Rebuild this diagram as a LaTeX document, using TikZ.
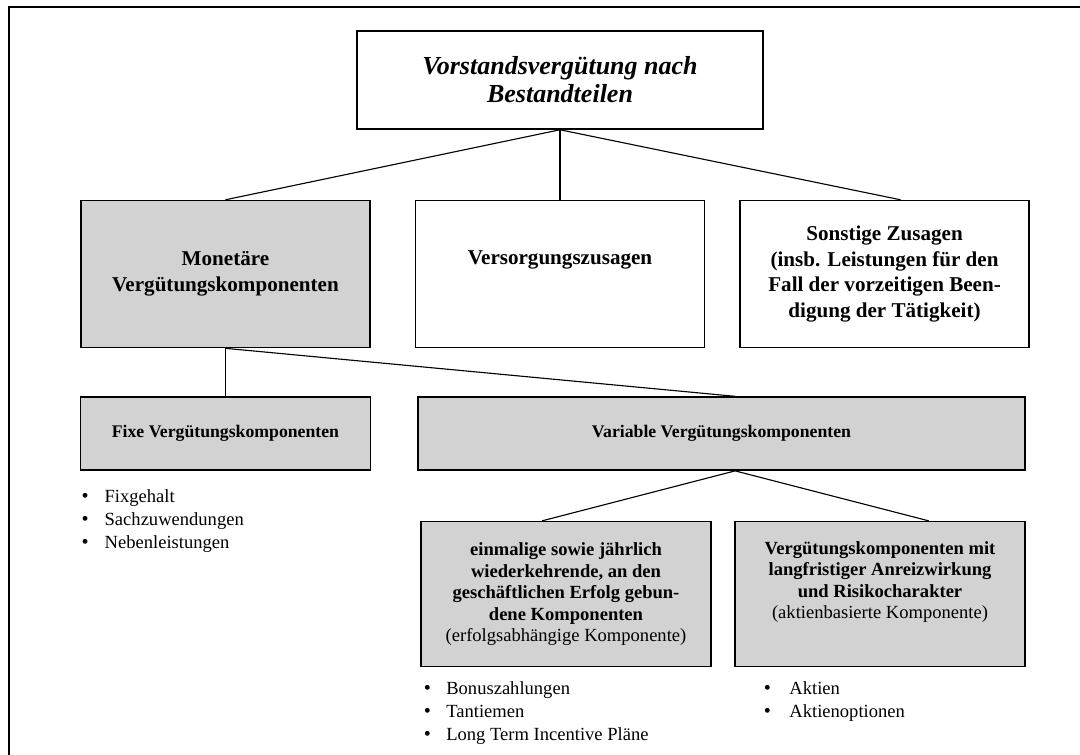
\documentclass[tikz,border=0pt]{standalone}
\usepackage{fontspec}
\setmainfont{Liberation Serif}
\usepackage{tikz}
\usetikzlibrary{positioning}

\tikzstyle{titlebox} = [rectangle, minimum width=10.15cm, minimum height=2.45cm, text centered, draw=black, line width=1.1pt, align=center, font=\fontsize{18.5}{20}\selectfont\bfseries\itshape]
\tikzstyle{mainbox} = [rectangle, minimum width=7.225cm, minimum height=3.675cm, text centered, draw=black, line width=1.1pt, align=center, font=\fontsize{15}{18.2}\selectfont\bfseries]
\tikzstyle{typebox} = [rectangle, minimum height=1.825cm, text centered, draw=black, line width=1.1pt, fill=gray!35, font=\fontsize{12.6}{15}\selectfont\bfseries]
\tikzstyle{detailbox} = [rectangle, minimum width=7.25cm, minimum height=3.625cm, text centered, draw=black, line width=1.1pt, fill=gray!35, align=center, font=\fontsize{13.2}{15.3}\selectfont\bfseries]
\tikzstyle{itemlist} = [inner sep=0pt, outer sep=0pt, anchor=north west, font=\fontsize{13.2}{16.4}\selectfont]
\tikzstyle{link} = [line width=0.8pt]

\begin{document}
\begin{tikzpicture}[node distance={1cm}]
	\useasboundingbox (0,0) rectangle (27,-18.85);
	\clip (0,0) rectangle (27,-18.85);
	\draw[line width=1.2pt] (0.225,-0.175) rectangle (28,-20);
	
	\node[titlebox] (title) at (14,-2) {Vorstandsvergütung nach\\ Bestandteilen};
	\node[mainbox, below=1.75cm of title] (versorg) {Versorgungszusagen\\ \strut};
	\node[mainbox, fill=gray!35, left=1.1cm of versorg] (monetaer) {Monetäre\\ Vergütungskomponenten};
	\node[mainbox, right=0.85cm of versorg] (sonstige) {Sonstige Zusagen\\ (insb. Leistungen für den\\ Fall der vorzeitigen Been-\\ digung der Tätigkeit)};
	\node[typebox, minimum width=7.25cm, below=1.2cm of monetaer] (fixe) {Fixe Vergütungskomponenten};
	\node[typebox, minimum width=15.175cm, right=1.15cm of fixe] (variabel) {Variable Vergütungskomponenten};
	\node[detailbox, below right=1.25cm and 0.075cm of variabel.south west] (erfolg) {einmalige sowie jährlich\\ wiederkehrende, an den\\ geschäftlichen Erfolg gebun-\\ dene Komponenten\\ {\mdseries (erfolgsabhängige Komponente)}};
	\node[detailbox, below left=1.25cm and 0cm of variabel.south east] (aktien) {Vergütungskomponenten mit\\ langfristiger Anreizwirkung\\ und Risikocharakter\\ {\mdseries (aktienbasierte Komponente)}\\ \strut};
	
	% lists
	\node[itemlist, below right=0.375cm and 0.05cm of fixe.south west] (fixliste) {\begin{tabular}{@{}p{0.575cm}@{}l@{}}
			{\Large\textbullet} & Fixgehalt\\ {\Large\textbullet} & Sachzuwendungen\\ {\Large\textbullet} & Nebenleistungen
		\end{tabular}};
	\node[itemlist, below right=0.275cm and 0.09cm of erfolg.south west] (erfolgliste) {\begin{tabular}{@{}p{0.5625cm}@{}l@{}}
			{\Large\textbullet} & Bonuszahlungen\\ {\Large\textbullet} & Tantiemen\\ {\Large\textbullet} & Long Term Incentive Pläne
		\end{tabular}};
	\node[itemlist, below right=0.275cm and 0.74cm of aktien.south west] (aktienliste) {\begin{tabular}{@{}p{0.64cm}@{}l@{}}
			{\Large\textbullet} & Aktien\\ {\Large\textbullet} & Aktienoptionen
		\end{tabular}};
	
	% lines
	\draw[link] (title.south) -- (monetaer.north);
	\draw[link] (title.south) -- (versorg.north);
	\draw[link] (title.south) -- ([xshift=0.4cm]sonstige.north);
	\draw[link] (monetaer.south) -- (fixe.north);
	\draw[link] (monetaer.south) -- ([xshift=0.34cm]variabel.north);
	\draw[link] ([xshift=0.34cm]variabel.south) -- ([xshift=-0.6cm]erfolg.north);
	\draw[link] ([xshift=0.34cm]variabel.south) -- ([xshift=1.22cm]aktien.north);
\end{tikzpicture}
\end{document}
